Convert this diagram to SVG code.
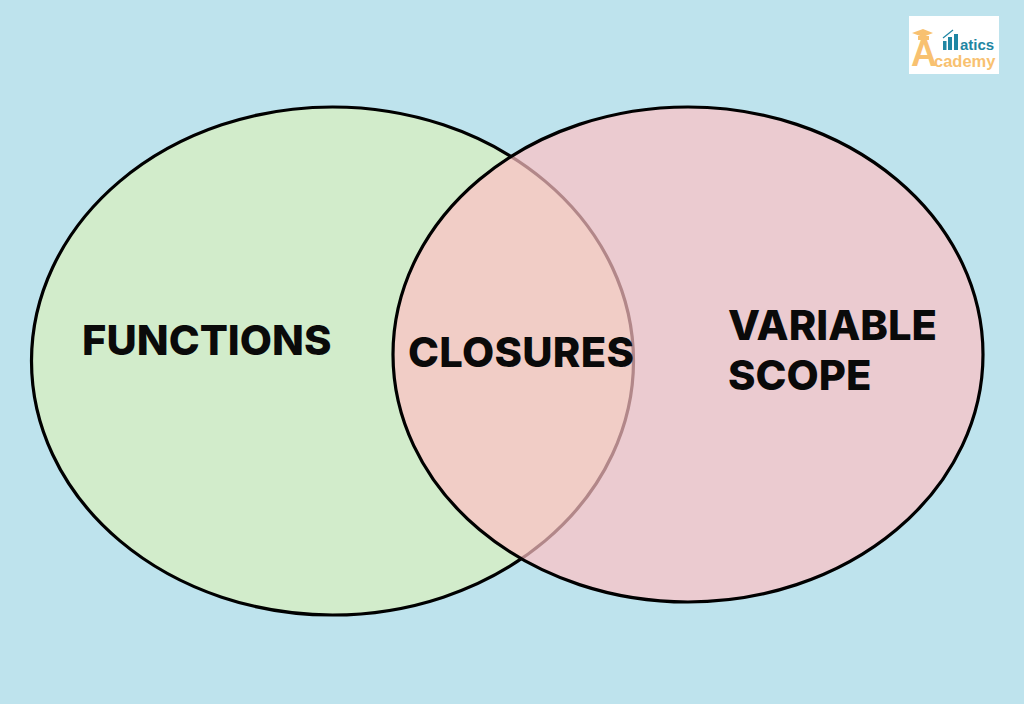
<svg xmlns="http://www.w3.org/2000/svg" width="1024" height="704" viewBox="0 0 1024 704">
  <style>
    .lbl { font-family: Inter, "Liberation Sans", sans-serif; font-weight: 800; font-size: 41.700px; fill: #0a0a0a; }
    .set { stroke: #000; stroke-width: 3.200; }
    .teal { fill: #1f86a3; }
    .gold { fill: #f8c170; }
    .logo-text { font-family: "Liberation Sans", sans-serif; font-weight: 700; }
  </style>
  <rect width="1024" height="704" fill="#bee3ed"/>
  <g id="functions">
    <ellipse class="set" cx="332.500" cy="361" rx="301" ry="254" fill="#d2eccb"/>
    <text class="lbl" x="82" y="355">FUNCTIONS</text>
  </g>
  <g id="variable-scope">
    <ellipse class="set" cx="688" cy="354.500" rx="295" ry="247.500" fill="#fec0c3" fill-opacity="0.7"/>
    <text class="lbl" x="728" y="340">VARIABLE</text>
    <text class="lbl" x="728" y="390">SCOPE</text>
  </g>
  <g id="closures">
    <text class="lbl" x="408" y="367" textLength="226" lengthAdjust="spacing">CLOSURES</text>
  </g>
  <g id="logo">
    <rect x="909" y="16" width="90" height="58" fill="#ffffff"/>
    <path class="gold" d="M912 33 L923 29 L933 33 L923 37 Z"/>
    <rect class="gold" x="918" y="36" width="11" height="4"/>
    <text class="gold logo-text" x="911" y="66" font-size="36">A</text>
    <text class="gold logo-text" x="934" y="67" font-size="16.500">cademy</text>
    <rect class="teal" x="943" y="41" width="3.500" height="9"/>
    <rect class="teal" x="948" y="37" width="4" height="13"/>
    <rect class="teal" x="954" y="34" width="4" height="16"/>
    <path d="M943 38 L953 30" stroke="#1f86a3" stroke-width="1.200" fill="none"/>
    <text class="teal logo-text" x="960" y="50" font-size="15">atics</text>
  </g>
</svg>
